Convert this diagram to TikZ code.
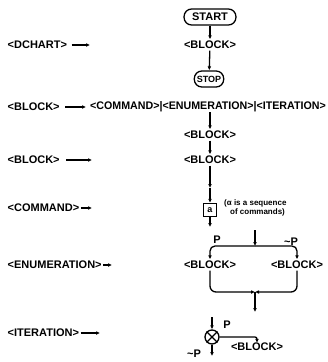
\documentclass[tikz,border=0pt]{standalone}
\usepackage{fontspec}
\setmainfont{Liberation Sans}
\usetikzlibrary{arrows.meta}
\begin{document}
\begin{tikzpicture}[x=1pt,y=-1pt,
  every node/.style={font=\fontsize{11}{13}\selectfont\bfseries, inner sep=1.5pt},
  arr/.style={-{Latex[length=4pt,width=3.8pt]}, line width=1.3pt},
  lnk/.style={line width=1.3pt},
  term/.style={draw, line width=1.3pt, rounded corners=7.5pt, minimum height=16pt, inner xsep=8pt, inner ysep=1pt},
  lbl/.style={anchor=west},
  note/.style={font=\fontsize{8}{9}\selectfont\bfseries, anchor=west, inner sep=0pt}]
\useasboundingbox (0,0) rectangle (328,362);

% D-chart: START -> BLOCK -> STOP
\node[lbl] (ldc) at (6,45) {<DCHART>};
\coordinate (ldce) at (90,45);
\draw[arr, shorten <=3pt] (ldc) -- (ldce);
\node[term] (start) at (210,17) {START};
\node (b1) at (210,45) {<BLOCK>};
\node[term, font=\fontsize{9}{10}\selectfont\bfseries, inner xsep=2.5pt] (stop) at (209,79) {STOP};
\draw[arr] (start) -- (b1);
\draw[arr] (b1) -- (stop);

% BLOCK alternatives
\node[lbl] (rb) at (6,107) {<BLOCK>};
\node[lbl, inner sep=0pt] (ralt) at (90,107) {\scalebox{0.97}[1]{<COMMAND>|<ENUMERATION>|<ITERATION>}};
\draw[arr, shorten <=4pt, shorten >=4pt] (rb) -- (ralt);

% sequence of blocks
\coordinate (rs) at (210,112);
\node (b2) at (210,135) {<BLOCK>};
\node (b3) at (210,160) {<BLOCK>};
\draw[arr] (rs) -- (b2);
\draw[arr] (b2) -- (b3);
\node[lbl] (lb) at (6,160) {<BLOCK>};
\coordinate (lbe) at (92,160);
\draw[arr, shorten <=5pt] (lb) -- (lbe);

% command
\node[lbl] (lcm) at (6,208) {<COMMAND>};
\coordinate (lcme) at (92,208);
\draw[arr] (lcm) -- (lcme);
\coordinate (cm) at (210,188);
\node[draw, line width=1.3pt, minimum size=13pt, inner sep=0pt, font=\fontsize{9}{10}\selectfont\bfseries] (cmd) at (210,210) {a};
\draw[arr] (b3) -- (cm);
\draw[arr] (cm) -- (cmd);
\coordinate (cmo) at (210,227);
\draw[arr] (cmd) -- (cmo);
\node[note] (n1) at (224,203) {(α is a sequence};
\node[note] (n2) at (230,212) {of commands)};

% enumeration
\node[lbl] (len) at (6,265) {<ENUMERATION>};
\coordinate (lene) at (112,265);
\draw[arr] (len) -- (lene);
\coordinate (et) at (255,230);
\coordinate (ej) at (255,246);
\node (el) at (210,265) {<BLOCK>};
\node (er) at (297,265) {<BLOCK>};
\draw[arr] (et) -- (ej);
\draw[arr, rounded corners=5pt] (ej) -- (el.north |- ej) -- (el.north);
\draw[arr, rounded corners=5pt] (ej) -- (er.north |- ej) -- (er.north);
\coordinate (eb) at (255,292);
\coordinate (eo) at (255,312);
\draw[arr, rounded corners=6pt] (el.south) -- (el.south |- eb) -- (eb);
\draw[arr, rounded corners=6pt] (er.south) -- (er.south |- eb) -- (eb);
\draw[arr] (eb) -- (eo);
\node (ep) at (217,240) {P};
\node (enp) at (291,242) {\textasciitilde P};

% iteration
\node[lbl] (lit) at (6,333) {<ITERATION>};
\coordinate (lite) at (100,333);
\draw[arr] (lit) -- (lite);
\coordinate (it) at (212,317);
\node[draw, circle, minimum size=14pt, inner sep=0pt, line width=1.3pt] (ic) at (212,337) {};
\draw[lnk] (ic.north east) -- (ic.south west) (ic.north west) -- (ic.south east);
\draw[arr] (it) -- (ic);
\node[inner sep=0pt] (ib) at (257,347) {<BLOCK>};
\draw[arr, rounded corners=2pt] (ic) -- (ib.north |- ic) -- (ib.north);
\coordinate (io) at (212,356);
\draw[arr] (ic) -- (io);
\node (ip) at (227,325) {P};
\node (inp) at (194,354) {\textasciitilde P};
\end{tikzpicture}
\end{document}
